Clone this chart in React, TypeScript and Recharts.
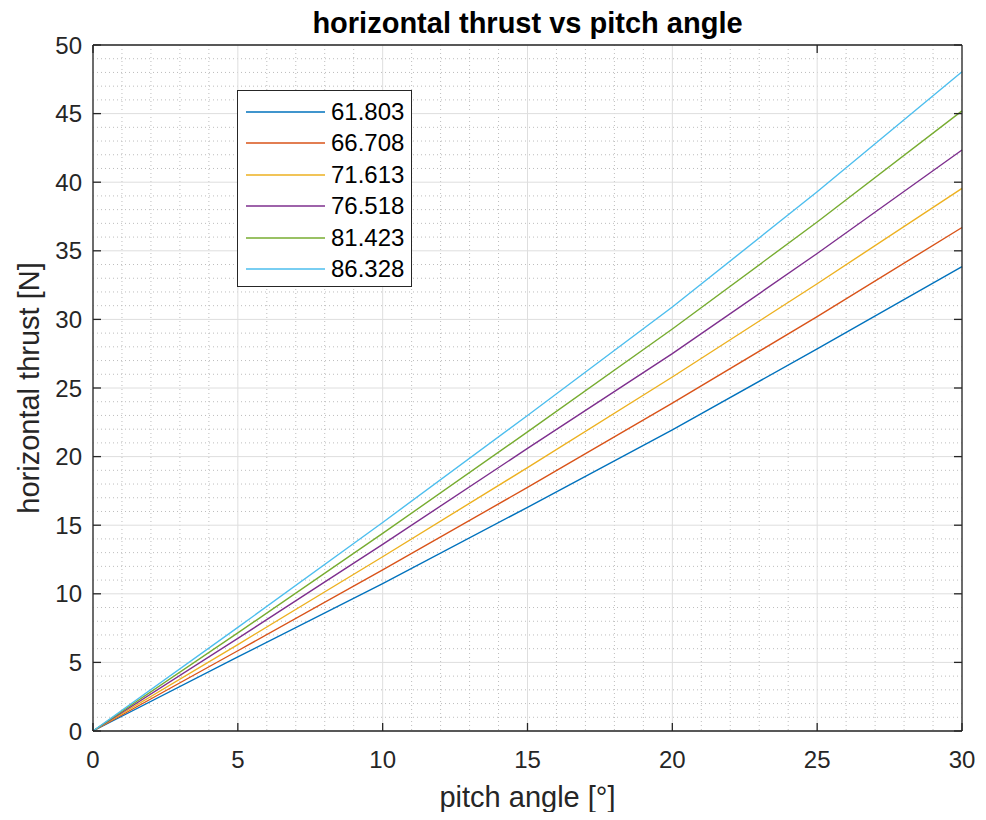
import React from "react";
import { LineChart, Line, XAxis, YAxis, CartesianGrid, Legend } from "recharts";

// pitch angle [deg]
const pitchAngle = [0, 5, 10, 15, 20, 25, 30];

// horizontal thrust [N], one list per curve
const thrust61803 = [0, 5.4, 10.75, 16.3, 21.95, 27.85, 33.85];
const thrust66708 = [0, 5.85, 11.75, 17.75, 23.9, 30.2, 36.7];
const thrust71613 = [0, 6.3, 12.7, 19.2, 25.8, 32.6, 39.55];
const thrust76518 = [0, 6.75, 13.6, 20.6, 27.5, 34.8, 42.35];
const thrust81423 = [0, 7.15, 14.4, 21.8, 29.3, 37.1, 45.2];
const thrust86328 = [0, 7.55, 15.2, 23.0, 30.9, 39.3, 48.05];

const seriesNames = ["61.803", "66.708", "71.613", "76.518", "81.423", "86.328"];
const seriesValues = [thrust61803, thrust66708, thrust71613, thrust76518, thrust81423, thrust86328];
const seriesColors = ["#0072BD", "#D95319", "#EDB120", "#7E2F8E", "#77AC30", "#4DBEEE"];

const xTicks = [0, 5, 10, 15, 20, 25, 30];
const yTicks = [0, 5, 10, 15, 20, 25, 30, 35, 40, 45, 50];

// minor grid every 1 unit, skipping the major lines
const xMinor = Array.from({ length: 31 }, (_, i) => i).filter((v) => v % 5 !== 0);
const yMinor = Array.from({ length: 51 }, (_, i) => i).filter((v) => v % 5 !== 0);

const data = pitchAngle.map((p, i) => {
  const row: Record<string, number> = { pitch: p };
  seriesNames.forEach((name, s) => {
    row[name] = seriesValues[s][i];
  });
  return row;
});

const INK = "#262626";
const FONT = "'Liberation Sans', Arial, Helvetica, sans-serif";
const W = 986;
const H = 820;
// each axis band is 1px thick, so the plot box ends up at 93..962 x 45..731
const MARGIN = { top: 44, right: 23, bottom: 88, left: 92 };
const TICK_LEN = 8;

function BottomTick({ x, y, payload }: any) {
  return (
    <g>
      <line x1={x} y1={y} x2={x} y2={y - TICK_LEN} stroke={INK} strokeWidth={1.3} />
      <text x={x} y={y + 37} textAnchor="middle" fill={INK} fontSize={24} fontFamily={FONT}>
        {payload.value}
      </text>
    </g>
  );
}

function TopTick({ x, y }: any) {
  return <line x1={x} y1={y} x2={x} y2={y + TICK_LEN} stroke={INK} strokeWidth={1.3} />;
}

function LeftTick({ x, y, payload }: any) {
  return (
    <g>
      <line x1={x} y1={y} x2={x + TICK_LEN} y2={y} stroke={INK} strokeWidth={1.3} />
      <text x={x - 11} y={y + 8.5} textAnchor="end" fill={INK} fontSize={24} fontFamily={FONT}>
        {payload.value}
      </text>
    </g>
  );
}

function RightTick({ x, y }: any) {
  return <line x1={x} y1={y} x2={x - TICK_LEN} y2={y} stroke={INK} strokeWidth={1.3} />;
}

function LegendBox({ payload }: any) {
  return (
    <div
      style={{
        boxSizing: "border-box",
        width: 175,
        height: 197,
        border: `1px solid ${INK}`,
        background: "#fff",
        paddingTop: 5,
        fontFamily: FONT,
        fontSize: 24,
        color: "#000",
      }}
    >
      {(payload || []).map((entry: any) => (
        <div key={entry.value} style={{ display: "flex", alignItems: "center", height: 31.5 }}>
          <svg width={93} height={4} style={{ flex: "none" }}>
            <line x1={8} y1={2} x2={87} y2={2} stroke={entry.color} strokeWidth={1.4} />
          </svg>
          <span style={{ lineHeight: "24px" }}>{entry.value}</span>
        </div>
      ))}
    </div>
  );
}

export default function App() {
  return (
    <div style={{ position: "relative", width: W, height: H, margin: -8, background: "#fff", fontFamily: FONT }}>
      <LineChart width={W} height={H} data={data} margin={MARGIN}>
        <CartesianGrid
          verticalValues={xMinor}
          horizontalValues={yMinor}
          stroke="#bdbdbd"
          strokeDasharray="1 3"
          strokeWidth={1}
        />
        <CartesianGrid stroke="#dedede" strokeWidth={1} />
        <XAxis
          dataKey="pitch"
          type="number"
          domain={[0, 30]}
          ticks={xTicks}
          height={1}
          tickSize={0}
          tickMargin={0}
          tickLine={false}
          axisLine={{ stroke: INK, strokeWidth: 1.3 }}
          tick={<BottomTick />}
          interval={0}
        />
        <XAxis
          xAxisId="top"
          orientation="top"
          type="number"
          domain={[0, 30]}
          allowDataOverflow
          ticks={xTicks}
          height={1}
          tickSize={0}
          tickMargin={0}
          tickLine={false}
          axisLine={{ stroke: INK, strokeWidth: 1.3 }}
          tick={<TopTick />}
          interval={0}
        />
        <YAxis
          type="number"
          domain={[0, 50]}
          ticks={yTicks}
          width={1}
          tickSize={0}
          tickMargin={0}
          tickLine={false}
          axisLine={{ stroke: INK, strokeWidth: 1.3 }}
          tick={<LeftTick />}
          interval={0}
        />
        <YAxis
          yAxisId="right"
          orientation="right"
          type="number"
          domain={[0, 50]}
          allowDataOverflow
          ticks={yTicks}
          width={1}
          tickSize={0}
          tickMargin={0}
          tickLine={false}
          axisLine={{ stroke: INK, strokeWidth: 1.3 }}
          tick={<RightTick />}
          interval={0}
        />
        {seriesNames.map((name, i) => (
          <Line
            key={name}
            type="linear"
            dataKey={name}
            name={name}
            stroke={seriesColors[i]}
            strokeWidth={1.4}
            dot={false}
            activeDot={false}
            isAnimationActive={false}
          />
        ))}
        <Legend
          layout="vertical"
          align="center"
          verticalAlign="middle"
          wrapperStyle={{ left: 237, top: 90, width: 175, height: 197 }}
          content={<LegendBox />}
        />
      </LineChart>
      <svg width={W} height={H} style={{ position: "absolute", left: 0, top: 0, pointerEvents: "none" }}>
        <text x={527.5} y={33} textAnchor="middle" fontSize={29} fontWeight="bold" fill="#000" fontFamily={FONT}>
          horizontal thrust vs pitch angle
        </text>
        <text x={527.5} y={807} textAnchor="middle" fontSize={29} fill={INK} fontFamily={FONT}>
          pitch angle [°]
        </text>
        <text
          transform="translate(39 388) rotate(-90)"
          textAnchor="middle"
          fontSize={29}
          fill={INK}
          fontFamily={FONT}
        >
          horizontal thrust [N]
        </text>
      </svg>
    </div>
  );
}
